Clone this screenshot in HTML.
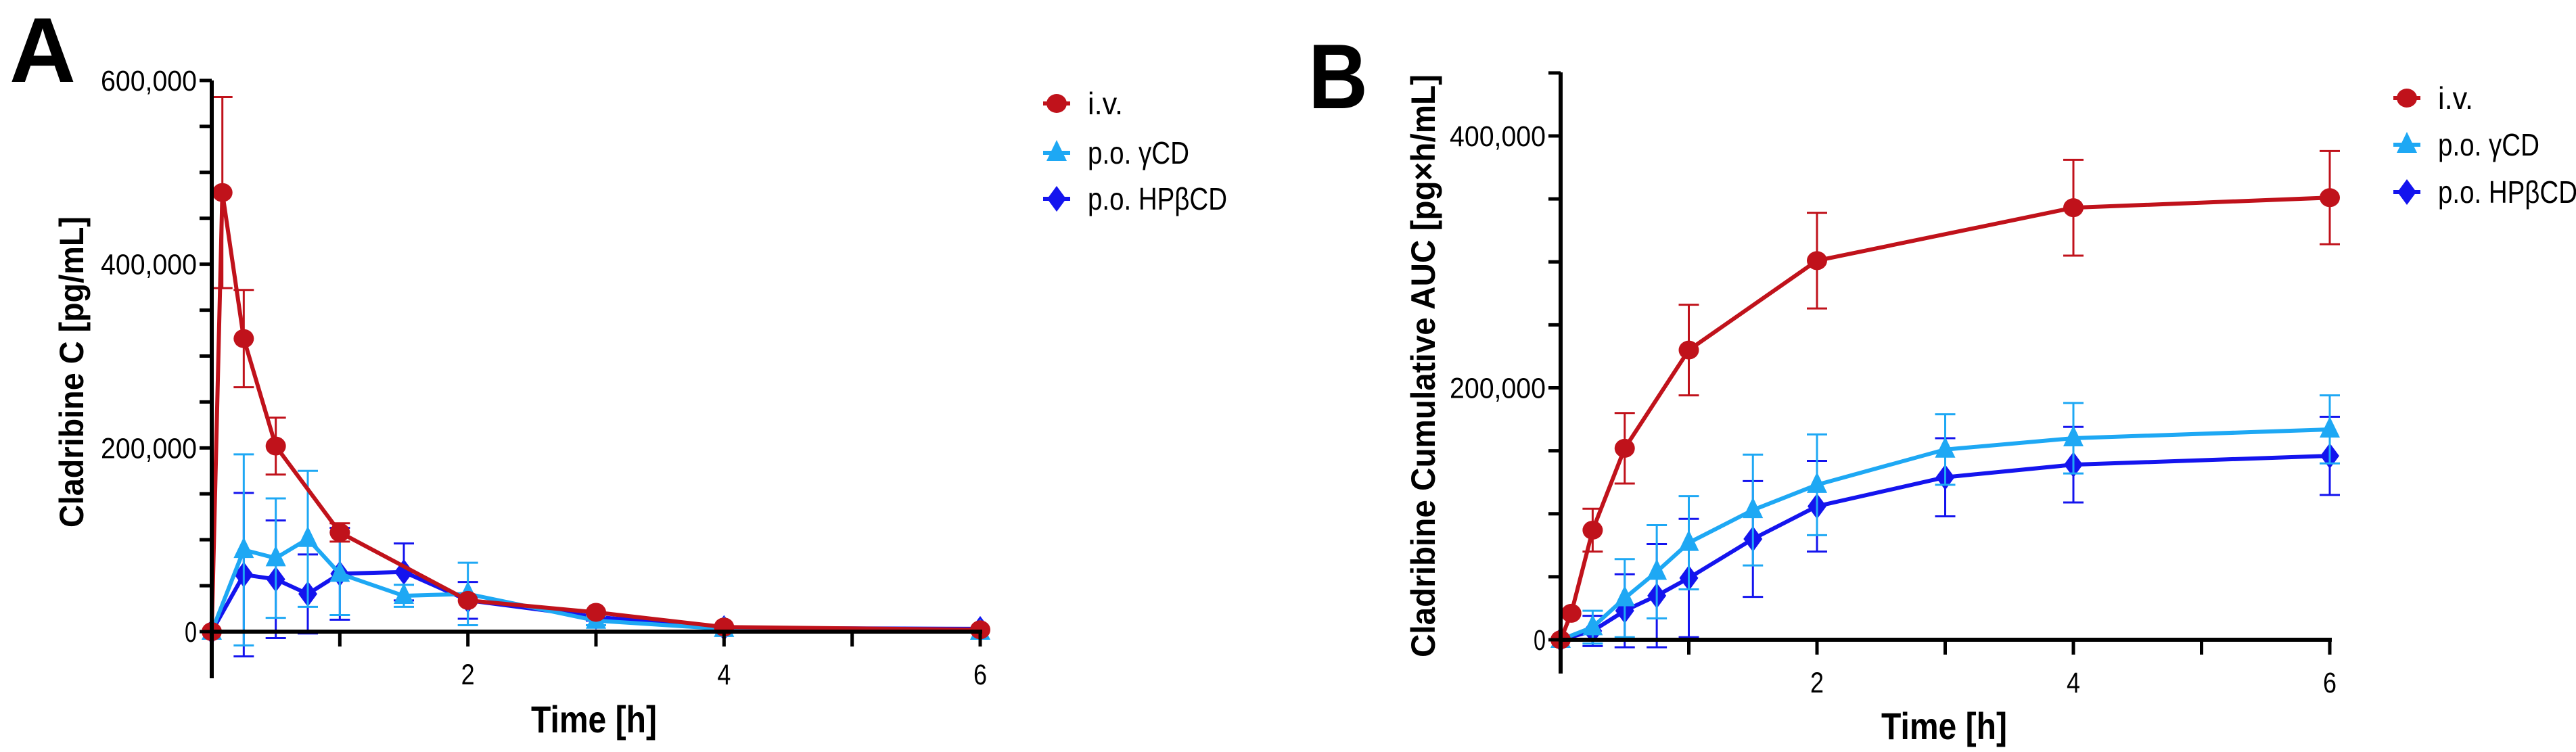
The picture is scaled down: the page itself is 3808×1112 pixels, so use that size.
<!DOCTYPE html>
<html><head><meta charset="utf-8"><style>
html,body{margin:0;padding:0;background:#fff;}
svg{display:block;}
</style></head><body>
<svg id="chart" width="3808" height="1112" viewBox="0 0 3808 1112" xmlns="http://www.w3.org/2000/svg" font-family="Liberation Sans, sans-serif">
<text x="14" y="121" font-size="136" font-weight="bold" textLength="98" lengthAdjust="spacingAndGlyphs">A</text>
<text x="1934" y="160" font-size="136" font-weight="bold" textLength="88" lengthAdjust="spacingAndGlyphs">B</text>
<g id="pa"></g>
<g id="pb"></g>
</svg>
<script>
const times = [0, 0.083, 0.25, 0.5, 1, 2, 3, 4, 6];
const timesPO = [0, 0.25, 0.5, 0.75, 1, 1.5, 2, 3, 4, 6];
const aIV = [0, 478000, 319000, 202000, 108000, 34000, 21000, 5000, 2000];
const aIVsd = [0, 104000, 53000, 31000, 10000, 0, 0, 0, 0];
const aG = [0, 89000, 80000, 101000, 63000, 39000, 41000, 12000, 3000, 0];
const aGsd = [0, 104000, 65000, 74000, 45000, 12000, 34000, 5000, 2000, 0];
const aH = [0, 62000, 57000, 41000, 63000, 65000, 34000, 16000, 4000, 3000];
const aHsd = [0, 89000, 64000, 43000, 50000, 31000, 20000, 4000, 2000, 0];
const bIV = [0, 21000, 87000, 152000, 230000, 301000, 0, 343000, 351000];
const bIVsd = [0, 0, 17000, 28000, 36000, 38000, 0, 38000, 37000];
const bG = [0, 10000, 33000, 54000, 77000, 103000, 123000, 151000, 160000, 167000];
const bGsd = [0, 13000, 31000, 37000, 37000, 44000, 40000, 28000, 28000, 27000];
const bH = [0, 7000, 23000, 35000, 49000, 80000, 106000, 129000, 139000, 146000];
const bHsd = [0, 12000, 29000, 41000, 47000, 46000, 36000, 31000, 30000, 31000];
const legendLabels = ["i.v.", "p.o. γCD", "p.o. HPβCD"];
const aYTicks = [0, 200000, 400000, 600000];
const bYTicks = [0, 200000, 400000];
const xTicks = [2, 4, 6];

const NS = "http://www.w3.org/2000/svg";
const RED = "#c0121b", LB = "#1ea8f4", DB = "#1414ee";
function el(parent, tag, attrs, text) {
  const e = document.createElementNS(NS, tag);
  for (const k in attrs) e.setAttribute(k, attrs[k]);
  if (text !== undefined) e.textContent = text;
  parent.appendChild(e);
  return e;
}
function fmt(v){ return v.toLocaleString('en-US'); }

function panel(g, cfg) {
  const X = t => cfg.x0 + (cfg.x6 - cfg.x0) * t / 6;
  const Y = v => cfg.y0 - (cfg.y0 - cfg.yRef) * v / cfg.vRef;
  const series = [
    {t: timesPO, v: cfg.h, sd: cfg.hsd, c: DB, m: "diamond", n: "hpbcd"},
    {t: timesPO, v: cfg.g, sd: cfg.gsd, c: LB, m: "triangle", n: "gcd"},
    {t: cfg.ivT, v: cfg.iv, sd: cfg.ivsd, c: RED, m: "circle", n: "iv"}
  ];
  const skipIdx = cfg.skipIV || [];
  series.forEach(s => {
    const sg = el(g, "g", {});
    
    
    s.t.forEach((t, i) => {
      if (s.n === "iv" && skipIdx.includes(i)) return;
      if (!s.sd[i]) return;
      const x = X(t), y1 = Y(s.v[i] + s.sd[i]), y2 = Y(s.v[i] - s.sd[i]);
      const eb = el(sg, "path", {d: `M${x},${y1}V${y2}M${x-15},${y1}h30M${x-15},${y2}h30`, stroke: s.c, "stroke-width": 3, fill: "none"});
      
      
    });
    let d = "";
    s.t.forEach((t, i) => {
      if (s.n === "iv" && skipIdx.includes(i)) return;
      d += (d ? "L" : "M") + X(t) + "," + Y(s.v[i]);
    });
    const ln = el(sg, "path", {d: d, stroke: s.c, "stroke-width": 6, fill: "none", "stroke-linejoin": "round"});
    
    
    s.t.forEach((t, i) => {
      if (s.n === "iv" && skipIdx.includes(i)) return;
      const mk = marker(sg, s.m, X(t), Y(s.v[i]), s.c);
      
      
    });
  });
  const ax = el(g, "g", {stroke: "#000", "stroke-width": 6});
  
  
  el(ax, "line", {x1: cfg.x0, y1: cfg.yTop, x2: cfg.x0, y2: cfg.yBot});
  el(ax, "line", {x1: cfg.x0 - 3, y1: cfg.y0, x2: cfg.x6 + 3, y2: cfg.y0});
  for (let v = 0; Y(v) >= cfg.yTop - 1; v += 50000) {
    el(ax, "line", {x1: cfg.x0 - 18, y1: Y(v), x2: cfg.x0, y2: Y(v), "stroke-width": 5});
  }
  for (let t = 1; t <= 6; t++) {
    el(ax, "line", {x1: X(t), y1: cfg.y0, x2: X(t), y2: cfg.y0 + 22, "stroke-width": 5});
  }
  cfg.yTicks.forEach(v => {
    const s = fmt(v);
    const tx = el(g, "text", {x: cfg.x0 - 22, y: Y(v) + 15, "font-size": 43, "text-anchor": "end", textLength: s.length > 1 ? 142 : 18, lengthAdjust: "spacingAndGlyphs"}, s);
    
    
  });
  xTicks.forEach(t => {
    const tx = el(g, "text", {x: X(t), y: cfg.y0 + 78, "font-size": 43, "text-anchor": "middle", textLength: 20, lengthAdjust: "spacingAndGlyphs"}, String(t));
    
    
  });
  const xt = el(g, "text", {x: cfg.xTitleX, y: cfg.xTitleY, "font-size": 56, "font-weight": "bold", "text-anchor": "middle", textLength: 186, lengthAdjust: "spacingAndGlyphs"}, "Time [h]");
  
  
  const yt = el(g, "text", {x: 0, y: 0, "font-size": 50, "font-weight": "bold", "text-anchor": "middle", textLength: cfg.yTitleLen, lengthAdjust: "spacingAndGlyphs", transform: `translate(${cfg.yTitleX},${cfg.yTitleCY}) rotate(-90)`}, cfg.yTitle);
  
  
  const cols = [RED, LB, DB], ms = ["circle", "triangle", "diamond"];
  legendLabels.forEach((lab, i) => {
    const lg = el(g, "g", {});
    
    
    const y = cfg.legY[i];
    el(lg, "line", {x1: cfg.legX - 20, y1: y, x2: cfg.legX + 20, y2: y, stroke: cols[i], "stroke-width": 6});
    marker(lg, ms[i], cfg.legX, y, cols[i]);
    el(lg, "text", {x: cfg.legX + 46, y: y + 16, "font-size": 46, textLength: [52, 150, 206][i], lengthAdjust: "spacingAndGlyphs"}, lab);
  });
}
function marker(parent, type, x, y, c) {
  if (type === "circle") return el(parent, "ellipse", {cx: x, cy: y, rx: 15, ry: 14, fill: c});
  if (type === "triangle") return el(parent, "path", {d: `M${x},${y-19}L${x+15},${y+12}L${x-15},${y+12}Z`, fill: c});
  return el(parent, "path", {d: `M${x},${y-19}L${x+14},${y}L${x},${y+19}L${x-14},${y}Z`, fill: c});
}

panel(document.getElementById("pa"), {
  x0: 313, x6: 1449, y0: 934, yRef: 119, vRef: 600000, yTop: 119, yBot: 1003,
  iv: aIV, ivsd: aIVsd, ivT: times, g: aG, gsd: aGsd, h: aH, hsd: aHsd,
  yTicks: aYTicks, xTitleX: 878, xTitleY: 1083,
  yTitle: "Cladribine C [pg/mL]", yTitleX: 123, yTitleCY: 550, yTitleLen: 460,
  legX: 1562, legY: [153, 226, 294]
});
panel(document.getElementById("pb"), {
  x0: 2307, x6: 3444, y0: 946, yRef: 201, vRef: 400000, yTop: 107, yBot: 996,
  iv: bIV, ivsd: bIVsd, ivT: times, skipIV: [6], g: bG, gsd: bGsd, h: bH, hsd: bHsd,
  yTicks: bYTicks, xTitleX: 2874, xTitleY: 1093,
  yTitle: "Cladribine Cumulative AUC [pg×h/mL]", yTitleX: 2121, yTitleCY: 541, yTitleLen: 862,
  legX: 3558, legY: [145, 214, 284]
});
</script>
</body></html>
